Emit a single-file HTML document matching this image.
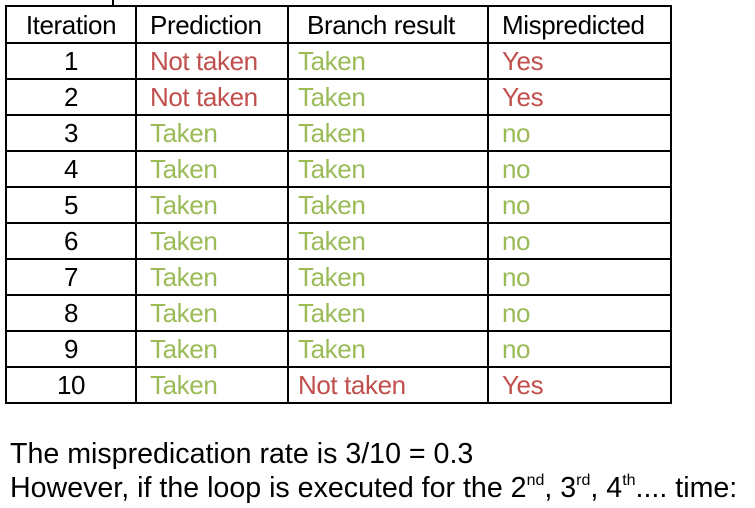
<!DOCTYPE html>
<html><head><meta charset="utf-8"><style>
body{margin:0;width:755px;height:508px;background:#fff;overflow:hidden;position:relative;font-family:"Liberation Sans",sans-serif}
table{position:absolute;left:5px;top:5px;border-collapse:collapse;table-layout:fixed}
td{border:2px solid #000;height:34px;padding:0 0 0 13px;font-size:26px;line-height:34px;white-space:nowrap;letter-spacing:-0.4px}
tr.h td{height:35px;color:#000}
td.c{text-align:center;padding:0}
td.b{padding-left:9px}
.r{color:#c0504d}.g{color:#9bbb59}
.txt{position:absolute;left:10px;font-size:28.6px;color:#000;line-height:32px;white-space:nowrap}
sup{font-size:16px;vertical-align:12px;line-height:0}
</style></head><body>
<div style="position:absolute;left:112px;top:0;width:2px;height:5px;background:#000"></div>
<table>
<colgroup><col style="width:130px"><col style="width:152px"><col style="width:200px"><col style="width:183px"></colgroup>
<tr class="h"><td class="c">Iteration</td><td>Prediction</td><td style="padding-left:18px">Branch result</td><td>Mispredicted</td></tr>
<tr><td class="c">1</td><td class="r">Not taken</td><td class="g b">Taken</td><td class="r">Yes</td></tr>
<tr><td class="c">2</td><td class="r">Not taken</td><td class="g b">Taken</td><td class="r">Yes</td></tr>
<tr><td class="c">3</td><td class="g">Taken</td><td class="g b">Taken</td><td class="g">no</td></tr>
<tr><td class="c">4</td><td class="g">Taken</td><td class="g b">Taken</td><td class="g">no</td></tr>
<tr><td class="c">5</td><td class="g">Taken</td><td class="g b">Taken</td><td class="g">no</td></tr>
<tr><td class="c">6</td><td class="g">Taken</td><td class="g b">Taken</td><td class="g">no</td></tr>
<tr><td class="c">7</td><td class="g">Taken</td><td class="g b">Taken</td><td class="g">no</td></tr>
<tr><td class="c">8</td><td class="g">Taken</td><td class="g b">Taken</td><td class="g">no</td></tr>
<tr><td class="c">9</td><td class="g">Taken</td><td class="g b">Taken</td><td class="g">no</td></tr>
<tr><td class="c">10</td><td class="g">Taken</td><td class="r b">Not taken</td><td class="r">Yes</td></tr>
</table>
<div class="txt" style="top:438px">The mispredication rate is 3/10 = 0.3</div>
<div class="txt" style="top:472px">However, if the loop is executed for the 2<sup>nd</sup>, 3<sup>rd</sup>, 4<sup>th</sup>.... time:</div>
</body></html>
